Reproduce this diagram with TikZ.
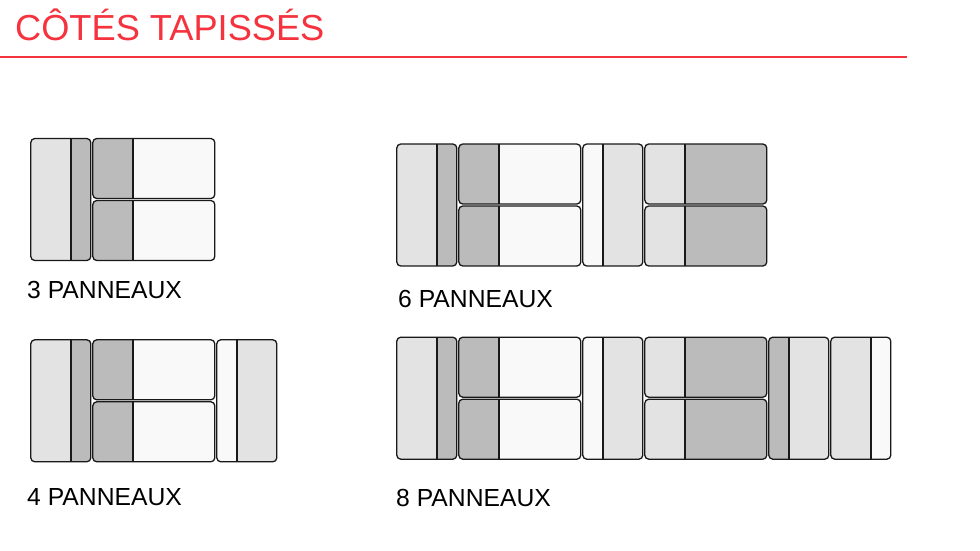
\documentclass[tikz,border=0pt]{standalone}
\usepackage{fontspec}
\setmainfont{Liberation Sans}
\definecolor{titlered}{HTML}{F5333F}
\definecolor{pdark}{HTML}{BBBBBB}
\definecolor{pmid}{HTML}{E3E3E3}
\definecolor{plight}{HTML}{F9F9F9}
\tikzset{
  panelline/.style={draw=black!90,line width=1.3pt,rounded corners=4pt},
  splitline/.style={draw=black!90,line width=1.7pt},
  caption/.style={anchor=base west,inner sep=0pt,font=\fontsize{24.7}{28}\selectfont,text=black},
  headline/.style={anchor=base west,inner sep=0pt,font=\fontsize{36.2}{42}\selectfont,text=titlered}
}
% x1 y1 x2 y2 xsplit left-colour right-colour
\newcommand{\panelbox}[7]{%
  \begin{scope}
    \path[clip,rounded corners=4pt] (#1,#2) rectangle (#3,#4);
    \fill[#6] (#1,#2) rectangle (#5,#4);
    \fill[#7] (#5,#2) rectangle (#3,#4);
    \draw[splitline] (#5,#2) -- (#5,#4);
  \end{scope}
  \draw[panelline] (#1,#2) rectangle (#3,#4);
}
\newcommand{\groupA}{%
  \panelbox{0}{0}{60}{122}{40}{pmid}{pdark}}
\newcommand{\groupB}{%
  \panelbox{62}{0}{184}{60}{102.5}{pdark}{plight}
  \panelbox{62}{62}{184}{122}{102.5}{pdark}{plight}}
\newcommand{\groupC}{%
  \panelbox{186}{0}{246}{122}{206}{plight}{pmid}}
\newcommand{\groupD}{%
  \panelbox{248}{0}{370}{60}{288.5}{pmid}{pdark}
  \panelbox{248}{62}{370}{122}{288.5}{pmid}{pdark}}
\newcommand{\groupE}{%
  \panelbox{372}{0}{432}{122}{392}{pdark}{pmid}}
\newcommand{\groupF}{%
  \panelbox{434}{0}{494}{122}{474}{pmid}{plight}}
\begin{document}
\begin{tikzpicture}[x=1pt,y=-1pt]
  \useasboundingbox (0,0) rectangle (980,550);
  \fill[white] (0,0) rectangle (980,550);
  \node[headline] (title) at (15,40) {CÔTÉS TAPISSÉS};
  \coordinate (ruleA) at (0,57);
  \coordinate (ruleB) at (907,57);
  \draw[titlered,line width=1.9pt] (ruleA) -- (ruleB);
  \begin{scope}[shift={(30.8,138.5)}] \groupA \groupB \end{scope}
  \begin{scope}[shift={(30.8,339.8)}] \groupA \groupB \groupC \end{scope}
  \begin{scope}[shift={(396.8,144)}] \groupA \groupB \groupC \groupD \end{scope}
  \begin{scope}[shift={(396.8,337.2)}] \groupA \groupB \groupC \groupD \groupE \groupF \end{scope}
  \node[caption] (c3) at (27,298) {3 PANNEAUX};
  \node[caption] (c4) at (27,505) {4 PANNEAUX};
  \node[caption] (c6) at (398,307) {6 PANNEAUX};
  \node[caption] (c8) at (396,506) {8 PANNEAUX};
\end{tikzpicture}
\end{document}
